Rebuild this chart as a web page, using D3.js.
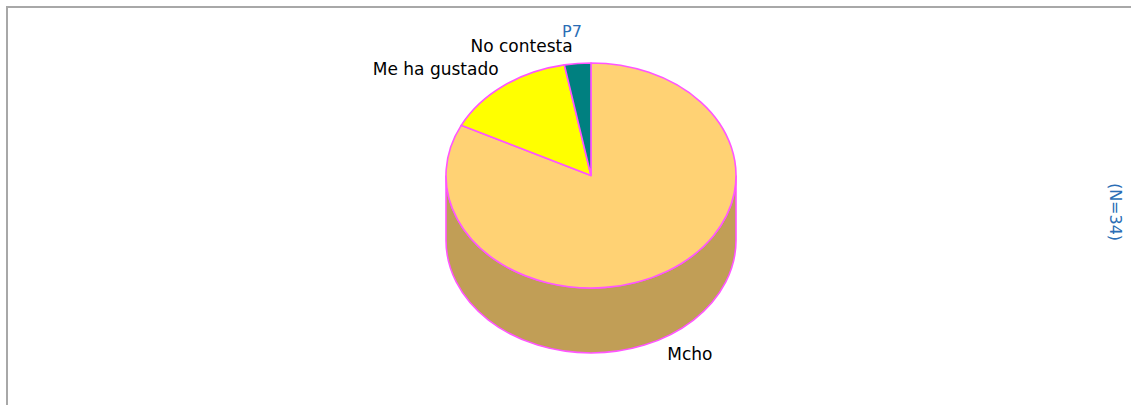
<!DOCTYPE html>
<html>
<head>
<meta charset="utf-8">
<title>P7</title>
<script src="https://d3js.org/d3.v7.min.js"></script>
<style>
html,body{margin:0;padding:0;background:#fff;}
svg text{font-family:"DejaVu Sans",sans-serif;font-size:16px;}
svg text.lbl{font-size:17px;}
</style>
</head>
<body>
<script>
// data (N=34)
var categories=["Mcho","Me ha gustado","No contesta"];
var counts=[28,5,1];
var topColors=["#ffd274","#ffff00","#008080"];
var sideColors=["#c19e56","#b3b300","#005a5a"];
var title="P7";
var note="(N=34)";

var W=1131,H=405;
var cx=591,cy=175.5,rx=145,ry=112.5,depth=65;

var svg=d3.select("body").append("svg")
	.attr("width",W)
	.attr("height",H);

// frame (only top + left edges visible)
svg.append("path")
	.attr("d","M7,405 V7 H1131")
	.attr("fill","none")
	.attr("stroke","#a8a8a8")
	.attr("stroke-width",2);

var pie=d3.pie().sort(null).value(d=>d);
var arcs=pie(counts);

// angle -> point on the ellipse (0 = top, clockwise)
var px=a=>cx+rx*Math.sin(a);
var py=(a,dy)=>cy-ry*Math.cos(a)+(dy||0);

function topPath(d){
	var large=(d.endAngle-d.startAngle)>Math.PI?1:0;
	return "M"+cx+","+cy+
		"L"+px(d.startAngle)+","+py(d.startAngle)+
		"A"+rx+","+ry+" 0 "+large+" 1 "+px(d.endAngle)+","+py(d.endAngle)+"Z";
}
function sidePath(d){
	var s=Math.max(d.startAngle,Math.PI/2),e=Math.min(d.endAngle,Math.PI*1.5);
	if(e<=s)return null;
	return "M"+px(s)+","+py(s)+
		"A"+rx+","+ry+" 0 0 1 "+px(e)+","+py(e)+
		"L"+px(e)+","+py(e,depth)+
		"A"+rx+","+ry+" 0 0 0 "+px(s)+","+py(s,depth)+"Z";
}

svg.selectAll("path.side")
	.data(arcs.filter(d=>sidePath(d)))
	.enter()
	.append("path")
	.attr("class","side")
	.attr("d",sidePath)
	.attr("fill",(d,i)=>sideColors[d.index])
	.attr("stroke","#ff55ff")
	.attr("stroke-width",1.6);

svg.selectAll("path.top")
	.data(arcs)
	.enter()
	.append("path")
	.attr("class","top")
	.attr("d",topPath)
	.attr("fill",d=>topColors[d.index])
	.attr("stroke","#ff55ff")
	.attr("stroke-width",1.6)
	.attr("stroke-linejoin","round");

// slice labels
svg.selectAll("text.lbl")
	.data(arcs)
	.enter()
	.append("text")
	.attr("class","lbl")
	.attr("fill","#000")
	.attr("text-anchor",d=>{
		var m=(d.startAngle+d.endAngle)/2;
		return Math.sin(m)<0?"end":"start";
	})
	.attr("x",d=>{
		var m=(d.startAngle+d.endAngle)/2;
		return Math.sin(m)<0?px(m)-5:px(m);
	})
	.attr("y",d=>{
		var m=(d.startAngle+d.endAngle)/2;
		return Math.cos(m)<0?py(m,depth+24):py(m,-11);
	})
	.text(d=>categories[d.index]);

svg.append("text")
	.attr("x",572)
	.attr("y",37)
	.attr("text-anchor","middle")
	.attr("fill","#2a6db5")
	.text(title);

svg.append("text")
	.attr("transform","translate(1110,212) rotate(90)")
	.attr("text-anchor","middle")
	.attr("fill","#2a6db5")
	.text(note);
</script>
</body>
</html>
